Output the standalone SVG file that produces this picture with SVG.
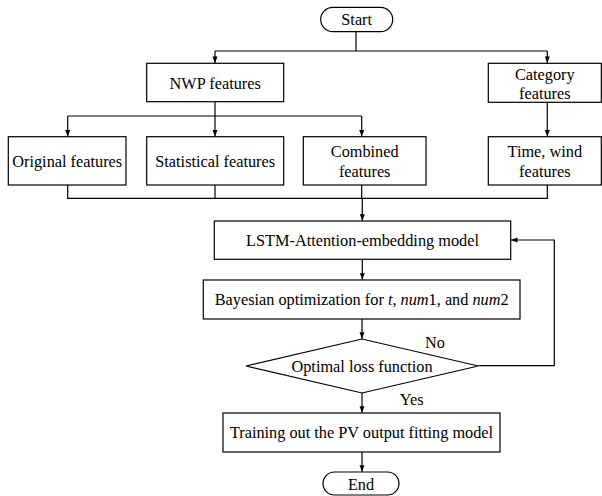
<svg xmlns="http://www.w3.org/2000/svg" width="602" height="496" viewBox="0 0 602 496">
<style>
.box{fill:#fff;stroke:#000;stroke-width:1.2}
.t{font-family:"Liberation Serif","Times New Roman",serif;font-size:16.3px;fill:#000;text-anchor:middle}
.c{fill:none;stroke:#000;stroke-width:1.2}
.l{font-family:"Liberation Serif","Times New Roman",serif;font-size:16.3px;fill:#000;text-anchor:middle}
</style>
<defs>
<marker id="ah" viewBox="-7 -3 8 6" refX="0" refY="0" markerWidth="8" markerHeight="6" markerUnits="userSpaceOnUse" orient="auto">
<path d="M-6.5,-2.5 L0,0 L-6.5,2.5 z" fill="#000"/>
</marker>
</defs>
<g id="connectors">
<path class="c" d="M356,31.7 V51"/>
<path class="c" d="M215,51 H547.3"/>
<path class="c" d="M215,51 V63" marker-end="url(#ah)"/>
<path class="c" d="M547.3,51 V63" marker-end="url(#ah)"/>
<path class="c" d="M215,101.7 V136.4" marker-end="url(#ah)"/>
<path class="c" d="M67.7,116 H361.7"/>
<path class="c" d="M67.7,116 V136.4" marker-end="url(#ah)"/>
<path class="c" d="M361.7,116 V136.4" marker-end="url(#ah)"/>
<path class="c" d="M547.3,102.3 V136.4" marker-end="url(#ah)"/>
<path class="c" d="M67.7,185 V198.3 H547.3 V185"/>
<path class="c" d="M215,185 V198.3"/>
<path class="c" d="M361.7,185 V198.3"/>
<path class="c" d="M362.3,198.3 V220.7" marker-end="url(#ah)"/>
<path class="c" d="M362.3,259.3 V279.7" marker-end="url(#ah)"/>
<path class="c" d="M362,319 V338.7" marker-end="url(#ah)"/>
<path class="c" d="M362,393 V412.7" marker-end="url(#ah)"/>
<path class="c" d="M362,452 V471.7" marker-end="url(#ah)"/>
<path class="c" d="M478.3,365.7 H554.3 V240 H511" marker-end="url(#ah)"/>
<text class="l" x="435" y="348">No</text>
<text class="l" x="411.7" y="405">Yes</text>
</g>
<g id="start">
<rect class="box" x="320.7" y="7.3" width="72" height="24.4" rx="12.2"/>
<text class="t" x="356.7" y="25.3">Start</text>
</g>
<g id="nwp">
<rect class="box" x="146.7" y="63.3" width="137" height="38.4"/>
<text class="t" x="215.2" y="88.5">NWP features</text>
</g>
<g id="category">
<rect class="box" x="488.3" y="63.3" width="113" height="39"/>
<text class="t" x="544.8" y="79.5">Category</text>
<text class="t" x="544.8" y="99">features</text>
</g>
<g id="original">
<rect class="box" x="8.3" y="136.7" width="117.7" height="48.3"/>
<text class="t" x="67.2" y="166.5">Original features</text>
</g>
<g id="statistical">
<rect class="box" x="146.7" y="136.7" width="137" height="48.3"/>
<text class="t" x="215.2" y="166.5">Statistical features</text>
</g>
<g id="combined">
<rect class="box" x="303.3" y="136.7" width="122.7" height="48.3"/>
<text class="t" x="364.7" y="157">Combined</text>
<text class="t" x="364.7" y="176.7">features</text>
</g>
<g id="timewind">
<rect class="box" x="488.3" y="136.7" width="113" height="48.3"/>
<text class="t" x="544.8" y="157">Time, wind</text>
<text class="t" x="544.8" y="176.7">features</text>
</g>
<g id="lstm">
<rect class="box" x="214.3" y="221" width="296.4" height="38.3"/>
<text class="t" x="362.5" y="245.5">LSTM-Attention-embedding model</text>
</g>
<g id="bayesian">
<rect class="box" x="203.3" y="280" width="316.7" height="39"/>
<text class="t" x="361.7" y="304.5">Bayesian optimization for <tspan font-style="italic">t</tspan>, <tspan font-style="italic">num</tspan>1, and <tspan font-style="italic">num</tspan>2</text>
</g>
<g id="decision">
<polygon class="box" points="246,366 362,339 478.3,366 362,393"/>
<text class="t" x="362" y="371.5">Optimal loss function</text>
</g>
<g id="training">
<rect class="box" x="223" y="413" width="277" height="39"/>
<text class="t" x="361.5" y="438">Training out the PV output fitting model</text>
</g>
<g id="end">
<rect class="box" x="323" y="472" width="76" height="23" rx="11.5"/>
<text class="t" x="361" y="489.5">End</text>
</g>
</svg>
